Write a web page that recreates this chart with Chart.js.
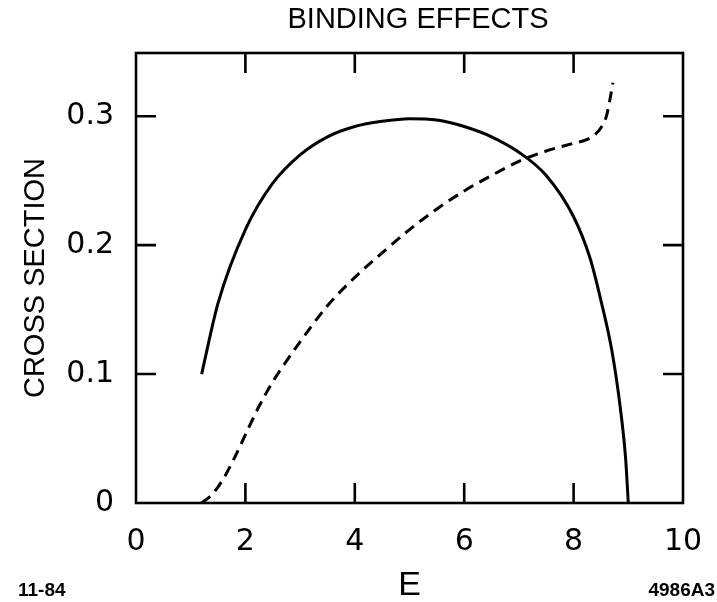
<!DOCTYPE html>
<html>
<head>
<meta charset="utf-8">
<script src="https://cdn.jsdelivr.net/npm/chart.js@4.4.1/dist/chart.umd.min.js"></script>
<style>
  html, body { margin: 0; padding: 0; background: #fff; }
  #wrap { width: 717px; height: 602px; }
</style>
</head>
<body>
<div id="wrap"><canvas id="c" width="717" height="602"></canvas></div>
<script>
// ---- data ----
const solidE  = [1.2, 1.5, 2.0, 2.5, 3.0, 3.5, 4.0, 4.5, 5.0, 5.5, 6.0, 6.5, 7.0, 7.5, 8.0, 8.3, 8.5, 8.7, 8.85, 8.95, 9.0];
const solidCS = [0.100, 0.155, 0.212, 0.248, 0.270, 0.284, 0.292, 0.296, 0.298, 0.297, 0.292, 0.284, 0.272, 0.254, 0.222, 0.190, 0.157, 0.118, 0.075, 0.035, 0.0];

const dashE  = [1.2, 1.4, 1.6, 1.8, 2.0, 2.25, 2.5, 2.75, 3.0, 3.5, 4.0, 4.5, 5.0, 5.5, 6.0, 6.5, 7.0, 7.5, 8.0, 8.25, 8.4, 8.5, 8.6, 8.66, 8.72];
const dashCS = [0.0, 0.007, 0.019, 0.035, 0.053, 0.075, 0.094, 0.110, 0.125, 0.153, 0.175, 0.194, 0.212, 0.228, 0.242, 0.254, 0.265, 0.273, 0.279, 0.282, 0.286, 0.291, 0.300, 0.312, 0.326];

const xTickValues = [0, 2, 4, 6, 8, 10];
const yTickValues = [0, 0.1, 0.2, 0.3];
const yTickLabels = ['0', '0.1', '0.2', '0.3'];

const titleText = 'BINDING EFFECTS';
const xTitle = 'E';
const yTitle = 'CROSS SECTION';
const leftNote = '11-84';
const rightNote = '4986A3';

// ---- build ----
const toPts = (xs, ys) => xs.map((x, i) => ({ x: x, y: ys[i] }));

const framePlugin = {
  id: 'frame',
  beforeDraw(chart) {
    const ctx = chart.ctx;
    ctx.save();
    ctx.fillStyle = '#fff';
    ctx.fillRect(0, 0, chart.width, chart.height);
    ctx.restore();
  },
  afterDatasetsDraw(chart) {
    const { ctx, chartArea: a, scales } = chart;
    ctx.save();
    ctx.strokeStyle = '#000';
    ctx.lineWidth = 2.6;
    ctx.strokeRect(a.left, a.top, a.right - a.left, a.bottom - a.top);
    const L = 20;
    ctx.beginPath();
    scales.x.ticks.forEach(t => {
      const px = scales.x.getPixelForValue(t.value);
      if (px <= a.left + 1 || px >= a.right - 1) return;
      ctx.moveTo(px, a.bottom); ctx.lineTo(px, a.bottom - L);
      ctx.moveTo(px, a.top); ctx.lineTo(px, a.top + L);
    });
    scales.y.ticks.forEach(t => {
      const py = scales.y.getPixelForValue(t.value);
      if (py >= a.bottom - 1 || py <= a.top + 1) return;
      ctx.moveTo(a.left, py); ctx.lineTo(a.left + L, py);
      ctx.moveTo(a.right, py); ctx.lineTo(a.right - L, py);
    });
    ctx.stroke();

    ctx.fillStyle = '#000';
    ctx.textBaseline = 'middle';
    ctx.textAlign = 'center';
    ctx.font = '29px "Liberation Sans", "DejaVu Sans", sans-serif';
    ctx.fillText(titleText, 418, 20);

    ctx.font = 'bold 19px "Liberation Sans", sans-serif';
    ctx.textAlign = 'left';
    ctx.fillText(leftNote, 18, 591);
    ctx.textAlign = 'right';
    ctx.fillText(rightNote, 715, 591);
    ctx.restore();
  }
};

new Chart(document.getElementById('c'), {
  type: 'line',
  data: {
    datasets: [
      {
        data: toPts(solidE, solidCS),
        borderColor: '#000',
        borderWidth: 3,
        pointRadius: 0,
        cubicInterpolationMode: 'monotone',
        fill: false
      },
      {
        data: toPts(dashE, dashCS),
        borderColor: '#000',
        borderWidth: 3,
        borderDash: [11, 7],
        pointRadius: 0,
        cubicInterpolationMode: 'monotone',
        fill: false
      }
    ]
  },
  options: {
    responsive: false,
    devicePixelRatio: 1,
    animation: false,
    events: [],
    layout: { padding: { top: 53, right: 34, left: 0, bottom: 0 } },
    plugins: { legend: { display: false }, tooltip: { enabled: false }, title: { display: false } },
    scales: {
      x: {
        type: 'linear',
        min: 0, max: 10,
        afterBuildTicks: s => { s.ticks = xTickValues.map(v => ({ value: v })); },
        afterFit: s => { s.height = 99; s.paddingLeft = 0; s.paddingRight = 0; },
        grid: { display: false, drawTicks: false },
        border: { display: false },
        ticks: {
          color: '#000',
          padding: 21,
          maxRotation: 0,
          autoSkip: false,
          font: { family: '"DejaVu Sans"', size: 30 },
          callback: v => String(v)
        },
        title: {
          display: true, text: xTitle, color: '#000',
          font: { family: '"Liberation Sans", "DejaVu Sans"', size: 34 },
          padding: { top: 0, bottom: -4 }
        }
      },
      y: {
        type: 'linear',
        min: 0, max: 0.349,
        afterBuildTicks: s => { s.ticks = yTickValues.map(v => ({ value: v })); },
        afterFit: s => { s.width = 136; s.paddingTop = 0; s.paddingBottom = 0; },
        grid: { display: false, drawTicks: false },
        border: { display: false },
        ticks: {
          color: '#000',
          padding: 22,
          autoSkip: false,
          font: { family: '"DejaVu Sans"', size: 30 },
          callback: (v) => yTickLabels[yTickValues.indexOf(v)] ?? ''
        },
        title: {
          display: true, text: yTitle, color: '#000',
          font: { family: '"Liberation Sans", "DejaVu Sans"', size: 29 },
          padding: { top: 19, bottom: 0 }
        }
      }
    }
  },
  plugins: [framePlugin]
});
</script>
</body>
</html>
